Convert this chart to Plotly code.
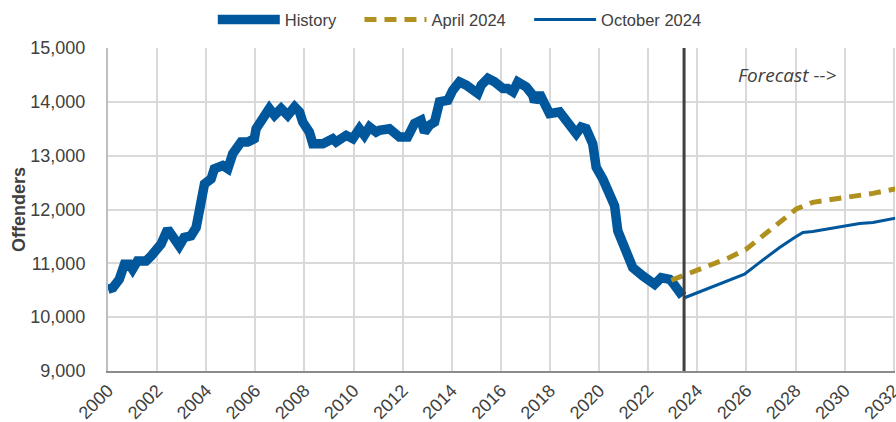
import plotly.graph_objects as go

# ---- data ----
hist_x = [2000.00, 2000.20, 2000.46, 2000.67, 2000.87, 2001.00, 2001.20, 2001.55, 2001.76, 2002.03,
          2002.16, 2002.43, 2002.64, 2002.90, 2003.10, 2003.38, 2003.59, 2003.72, 2003.86, 2003.93,
          2004.20, 2004.33, 2004.67, 2004.88, 2005.08, 2005.42, 2005.69, 2005.96, 2006.03, 2006.24,
          2006.57, 2006.78, 2007.05, 2007.32, 2007.60, 2007.80, 2007.93, 2008.20, 2008.34, 2008.75,
          2009.15, 2009.29, 2009.70, 2009.97, 2010.24, 2010.44, 2010.65, 2010.92, 2011.05, 2011.46,
          2011.87, 2012.20, 2012.48, 2012.75, 2012.89, 2013.09, 2013.30, 2013.50, 2013.84, 2014.04,
          2014.31, 2014.59, 2014.86, 2015.06, 2015.20, 2015.47, 2015.74, 2016.08, 2016.28, 2016.49,
          2016.69, 2017.03, 2017.30, 2017.37, 2017.57, 2017.78, 2017.98, 2018.39, 2018.59, 2018.86,
          2019.07, 2019.27, 2019.47, 2019.74, 2019.88, 2020.15, 2020.42, 2020.63, 2020.76, 2021.03,
          2021.17, 2021.37, 2021.78, 2021.98, 2022.26, 2022.53, 2022.87, 2023.00, 2023.20, 2023.40]
hist_y = [10517, 10547, 10703, 10983, 10983, 10890, 11045, 11045, 11138, 11325,
          11356, 11636, 11480, 11325, 11480, 11511, 11666, 11978, 12289, 12476,
          12569, 12756, 12817, 12756, 13036, 13253, 13253, 13315, 13501, 13625,
          13875, 13750, 13875, 13750, 13905, 13812, 13625, 13438, 13222, 13222,
          13315, 13253, 13377, 13315, 13501, 13377, 13532, 13438, 13470, 13501,
          13345, 13345, 13595, 13657, 13438, 13563, 13625, 14000, 14030, 14216,
          14371, 14310, 14248, 14155, 14310, 14435, 14371, 14248, 14248, 14185,
          14371, 14279, 14123, 14000, 14155, 14000, 13782, 13812, 13688, 13563,
          13408, 13532, 13501, 13222, 12785, 12569, 12257, 12071, 11604, 11325,
          11107, 10920, 10765, 10703, 10610, 10734, 10703, 10640, 10517, 10392]

apr_x = [2022.94, 2023.55, 2024.63, 2025.31, 2025.99, 2026.67, 2027.35, 2028.03, 2028.70,
         2029.38, 2030.06, 2031.15, 2032.07]
apr_y = [10685, 10797, 10983, 11107, 11263, 11511, 11760, 12009, 12133,
         12177, 12239, 12300, 12382]

oct_x = [2023.48, 2024.36, 2025.18, 2025.92, 2026.53, 2027.35, 2027.96, 2028.30, 2028.70,
         2029.79, 2030.61, 2031.15, 2032.07]
oct_y = [10361, 10517, 10672, 10797, 11014, 11293, 11480, 11573, 11592,
         11679, 11741, 11760, 11841]

forecast_start = 2023.46
tick_years = list(range(2000, 2033, 2))
tick_text = [str(y) for y in tick_years]
y_ticks = [9000, 10000, 11000, 12000, 13000, 14000, 15000]

BLUE = "#00579C"
GOLD = "#B0901F"
TXT = "#404040"
FONT = "Liberation Sans, Arial, sans-serif"
FS = 18
LFS = 16.5
NB = "\u00a0"

fig = go.Figure()
fig.add_trace(go.Scatter(x=hist_x, y=hist_y, mode="lines", name="History" + NB * 4,
                         line=dict(color=BLUE, width=9.5)))
fig.add_trace(go.Scatter(x=apr_x, y=apr_y, mode="lines", name="April 2024" + NB * 4,
                         line=dict(color=GOLD, width=5, dash="12px,8px")))
fig.add_trace(go.Scatter(x=oct_x, y=oct_y, mode="lines", name="October 2024",
                         line=dict(color=BLUE, width=3)))

fig.add_shape(type="line", x0=forecast_start, x1=forecast_start, y0=0, y1=1,
              xref="x", yref="paper", line=dict(color="#404040", width=3), layer="above")

fig.add_annotation(x=2027.67, y=14496, xref="x", yref="y", text="Forecast -->",
                   showarrow=False, font=dict(family="Open Sans, sans-serif", size=19,
                                              color=TXT, style="italic"))

fig.update_layout(
    width=896, height=422,
    margin=dict(l=108, r=1, t=48, b=51),
    paper_bgcolor="white", plot_bgcolor="white",
    font=dict(family=FONT, size=FS, color=TXT),
    showlegend=True,
    legend=dict(orientation="h", x=0.447, xanchor="center", y=1.087, yanchor="middle",
                itemwidth=62, font=dict(size=LFS, color=TXT), bgcolor="rgba(0,0,0,0)"),
    xaxis=dict(range=[2000, 2032.05], tickvals=tick_years, ticktext=tick_text,
               tickangle=-45, showgrid=True, gridcolor="#D9D9D9", gridwidth=2,
               showline=True, linecolor="#8C8C8C", linewidth=2, zeroline=False,
               ticks="", automargin=False, ticklabeloverflow="allow",
               tickfont=dict(size=FS, color=TXT)),
    yaxis=dict(range=[9000, 15000], tickvals=y_ticks, tickformat=",d",
               showgrid=True, gridcolor="#D9D9D9", gridwidth=2,
               showline=True, linecolor="#BFBFBF", linewidth=2, zeroline=False,
               ticks="", ticklabelstandoff=17, tickfont=dict(size=FS, color=TXT),
               title=dict(text="<b>Offenders</b>", font=dict(size=FS, color=TXT), standoff=0)),
)

fig.write_html("out.html", config={"displayModeBar": False},
               post_script="document.body.style.margin='0px';")
